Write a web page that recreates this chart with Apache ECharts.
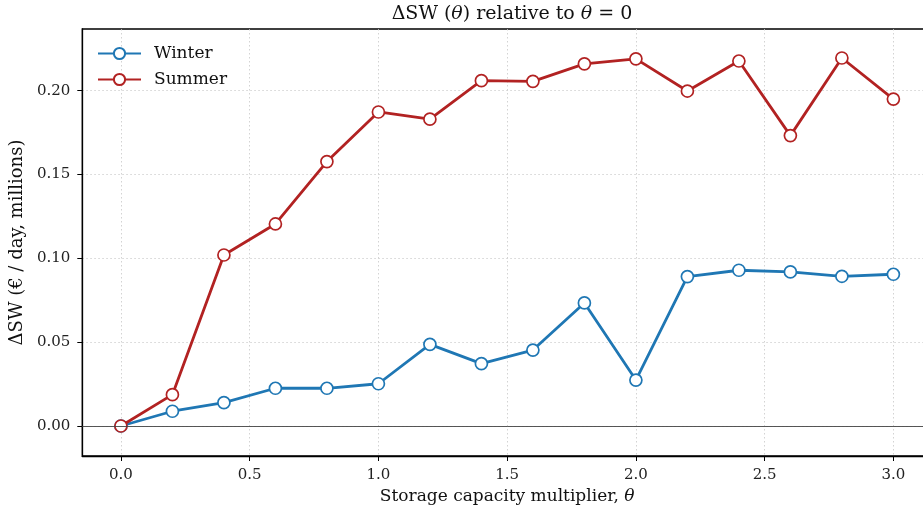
<html>
<head>
  <meta charset="utf-8">
  <title>delta sw</title>
</head>
<body style="margin:0;background:#fff;overflow:hidden;">
<div id="main" style="width:932px;height:513px;"></div>
<script src="https://cdn.jsdelivr.net/npm/echarts@6/dist/echarts.min.js"></script>
<script>
  var theta = [0.0, 0.2, 0.4, 0.6, 0.8, 1.0, 1.2, 1.4, 1.6, 1.8, 2.0, 2.2, 2.4, 2.6, 2.8, 3.0];
  var winter = [0, 0.0088, 0.0139, 0.0225, 0.0225, 0.0252, 0.0487, 0.0372, 0.0453, 0.0734, 0.0274, 0.0891, 0.0929, 0.0919, 0.0893, 0.0905];
  var summer = [0, 0.0187, 0.102, 0.1205, 0.1577, 0.1873, 0.183, 0.206, 0.2056, 0.216, 0.219, 0.1998, 0.2177, 0.1732, 0.2195, 0.195];
  var xTicks = [0, 0.5, 1.0, 1.5, 2.0, 2.5, 3.0];
  var yTicks = [0, 0.05, 0.10, 0.15, 0.20];

  var font = 'DejaVu Serif';
  function pairs(ys) {
    return theta.map(function (t, i) { return [t, ys[i]]; });
  }

  // the picture is cut at the right edge, so the chart is a bit wider than the window
  var myChart = echarts.init(document.getElementById('main'), null, {renderer: 'canvas'});
  myChart.setOption({
    animation: false,
    backgroundColor: '#fff',
    title: {
      text: 'ΔSW ({i|θ}) relative to {i|θ} = 0',
      left: 507,
      textAlign: 'center',
      top: 0,
      textStyle: {
        fontFamily: font, fontSize: 19, fontWeight: 'normal', color: '#111',
        rich: { i: { fontFamily: font, fontSize: 19, fontStyle: 'italic', color: '#111' } }
      }
    },
    legend: {
      left: 92,
      top: 40,
      orient: 'vertical',
      itemWidth: 43,
      itemHeight: 14,
      itemGap: 9,
      textStyle: { fontFamily: font, fontSize: 17, color: '#111', padding: [0, 0, 0, 8] },
      data: ['Winter', 'Summer']
    },
    grid: {
      left: 81, right: 0, top: 29, bottom: 57,
      show: true, borderColor: '#000', borderWidth: 1.3
    },
    xAxis: {
      type: 'value',
      min: -0.15, max: 3.15,
      name: 'Storage capacity multiplier, {i|θ}',
      nameLocation: 'middle',
      nameGap: 32,
      nameTextStyle: {
        fontFamily: font, fontSize: 17, color: '#111',
        rich: { i: { fontFamily: font, fontSize: 17, fontStyle: 'italic', color: '#111' } }
      },
      axisLine: { show: true, onZero: false, lineStyle: { color: '#000', width: 1.3 } },
      axisTick: { show: true, length: 5, customValues: xTicks, lineStyle: { color: '#000', width: 1 } },
      axisLabel: {
        customValues: xTicks, margin: 12, fontFamily: font, fontSize: 15, color: '#222',
        formatter: function (v) { return v.toFixed(1); }
      },
      splitLine: { show: true, lineStyle: { color: '#c8c8c8', type: [1.5, 2.5], width: 0.8 } }
    },
    yAxis: {
      type: 'value',
      min: -0.0179, max: 0.2368,
      name: 'ΔSW (€ / day, millions)',
      nameLocation: 'middle',
      nameRotate: 90,
      nameGap: 49,
      nameTextStyle: { fontFamily: font, fontSize: 18, color: '#111' },
      axisLine: { show: true, onZero: false, lineStyle: { color: '#000', width: 1.3 } },
      axisTick: { show: true, length: 5, customValues: yTicks, lineStyle: { color: '#000', width: 1 } },
      axisLabel: {
        customValues: yTicks, margin: 12, fontFamily: font, fontSize: 15, color: '#222',
        formatter: function (v) { return v.toFixed(2); }
      },
      splitLine: { show: true, lineStyle: { color: '#c8c8c8', type: [1.5, 2.5], width: 0.8 } }
    },
    series: [
      {
        name: 'Winter',
        type: 'line',
        data: pairs(winter),
        symbol: 'circle',
        symbolSize: 12,
        showAllSymbol: true,
        z: 3,
        lineStyle: { color: '#1f77b4', width: 2.8 },
        itemStyle: { color: '#fff', borderColor: '#1f77b4', borderWidth: 1.7 },
        emphasis: { disabled: true },
        markLine: {
          silent: true,
          symbol: 'none',
          label: { show: false },
          lineStyle: { color: '#444', width: 0.9, type: 'solid' },
          data: [{ yAxis: 0 }]
        }
      },
      {
        name: 'Summer',
        type: 'line',
        data: pairs(summer),
        symbol: 'circle',
        symbolSize: 12,
        showAllSymbol: true,
        z: 4,
        lineStyle: { color: '#b22222', width: 2.8 },
        itemStyle: { color: '#fff', borderColor: '#b22222', borderWidth: 1.7 },
        emphasis: { disabled: true }
      }
    ]
  });
</script>
</body>
</html>
